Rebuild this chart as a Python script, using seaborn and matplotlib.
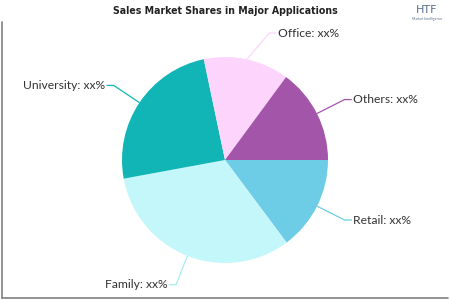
import numpy as np
import matplotlib
matplotlib.use("Agg")
import matplotlib.pyplot as plt
from matplotlib.lines import Line2D
import seaborn as sns

categories = ["Retail", "Family", "University", "Office", "Others"]
shares = [14.8, 32.3, 24.6, 13.4, 14.9]
labels = ["Retail: xx%", "Family: xx%", "University: xx%", "Office: xx%", "Others: xx%"]
colors = ["#6ecde6", "#c4f7f9", "#12b5b5", "#fdd5fc", "#a355a9"]

sns.set_theme(style="white")
plt.rcParams['font.family'] = ['Lato', 'DejaVu Sans']

W, H = 450, 300
fig = plt.figure(figsize=(4.5, 3), dpi=100)
R = 103.0
cx, cy = 225.0, 160.0
ax = fig.add_axes([0, 0, 1, 1])

wedges, _ = ax.pie(shares, colors=colors, startangle=0, counterclock=False,
                   radius=1.0, center=(0, 0), frame=True,
                   wedgeprops=dict(linewidth=0))
ax.set_xlim(-cx / R, (W - cx) / R)
ax.set_ylim(-(H - cy) / R, cy / R)
ax.set_aspect("auto")
ax.axis("off")

elbow_override = {"Office": (0.43, 1.233)}
for w, cat, lab, col in zip(wedges, categories, labels, colors):
    mid = np.deg2rad((w.theta1 + w.theta2) / 2)
    x0, y0 = np.cos(mid), np.sin(mid)
    ex, ey = elbow_override.get(cat, (1.3 * x0, 1.3 * y0))
    side = 1 if ex > 0 else -1
    hx = ex + side * 0.07
    lc = col if cat != "Family" else "#a8ecf0"
    ax.plot([x0, ex, hx], [y0, ey, ey], color=lc, lw=0.9, solid_capstyle="butt")
    ax.text(hx + side * 0.01, ey, lab, ha="left" if side > 0 else "right",
            va="center", fontsize=8.7, color="#333333")

fig.text(0.5, 1 - 11 / H, "Sales Market Shares in Major Applications",
         ha="center", va="center", fontsize=7.6, fontweight="heavy",
         family="DejaVu Sans", fontstretch="condensed", color="#222222")

# logo-ish text
fig.text(1 - 23 / W, 1 - 10 / H, "HTF", ha="center", va="center",
         fontsize=8, color="#5a6e8c", family="DejaVu Sans")
fig.text(1 - 23 / W, 1 - 19 / H, "Market Intelligence", ha="center", va="center",
         fontsize=2.5, color="#5a6e8c")

gray = "#808080"
fig.add_artist(Line2D([1.5 / W, 1.5 / W], [1 - 22 / H, 1 - 298 / H],
                      color=gray, lw=1.2, transform=fig.transFigure))
fig.add_artist(Line2D([1.5 / W, 448 / W], [1 - 298 / H, 1 - 298 / H],
                      color=gray, lw=1.2, transform=fig.transFigure))

fig.savefig("out.png", dpi=100, facecolor="white")
